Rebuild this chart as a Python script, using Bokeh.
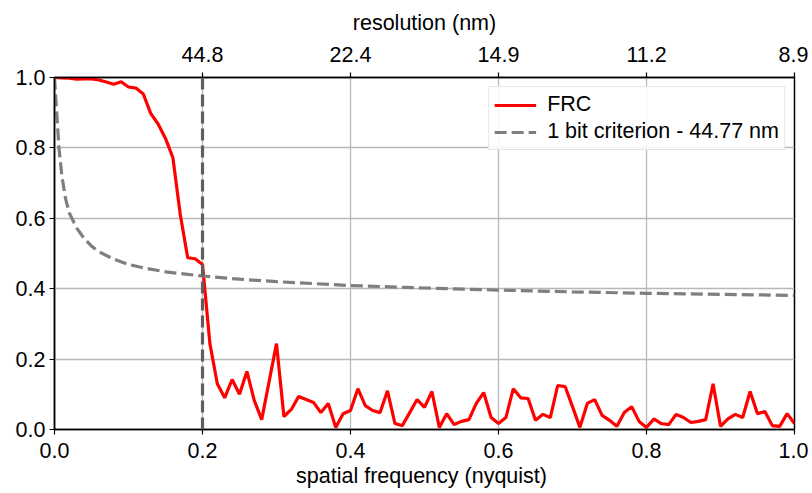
from bokeh.plotting import figure
from bokeh.models import (LinearAxis, FixedTicker, Span, Legend, LegendItem,
                          Range1d, NumeralTickFormatter)
from bokeh.embed import file_html
from bokeh.resources import INLINE

# FRC curve (spatial frequency in nyquist units, step 0.01)
frc_x = [i / 100 for i in range(101)]
frc_y = [1.0, 0.999, 0.998, 0.995, 0.996, 0.996, 0.993, 0.987, 0.981, 0.988,
         0.973, 0.970, 0.953, 0.898, 0.868, 0.827, 0.772, 0.610, 0.488, 0.485,
         0.469, 0.244, 0.130, 0.090, 0.142, 0.100, 0.165, 0.082, 0.028, 0.136,
         0.244, 0.037, 0.057, 0.094, 0.085, 0.077, 0.048, 0.074, 0.006, 0.045,
         0.054, 0.116, 0.068, 0.054, 0.048, 0.110, 0.017, 0.011, 0.048, 0.085,
         0.063, 0.108, 0.006, 0.045, 0.014, 0.023, 0.028, 0.074, 0.105, 0.034,
         0.017, 0.034, 0.116, 0.090, 0.088, 0.026, 0.043, 0.034, 0.125, 0.122,
         0.065, 0.006, 0.074, 0.085, 0.040, 0.026, 0.009, 0.048, 0.065, 0.023,
         0.006, 0.030, 0.017, 0.014, 0.043, 0.034, 0.020, 0.023, 0.028, 0.130,
         0.009, 0.030, 0.043, 0.034, 0.108, 0.045, 0.051, 0.011, 0.009, 0.045,
         0.017]

# 1 bit criterion threshold curve
bit_x = [0.0, 0.003, 0.006, 0.01, 0.015, 0.02, 0.03, 0.04, 0.05, 0.06, 0.08,
         0.10, 0.12, 0.15, 0.20, 0.25, 0.30, 0.40, 0.50, 0.60, 0.70, 0.80,
         0.90, 1.00]
bit_y = [1.0, 0.90, 0.80, 0.72, 0.655, 0.615, 0.572, 0.543, 0.521, 0.505,
         0.484, 0.469, 0.459, 0.448, 0.436, 0.427, 0.420, 0.409, 0.402,
         0.396, 0.391, 0.387, 0.384, 0.381]

crossing_x = 0.2
legend_labels = ["FRC", "1 bit criterion - 44.77 nm"]

x_ticks = [0.0, 0.2, 0.4, 0.6, 0.8, 1.0]
y_ticks = [0.0, 0.2, 0.4, 0.6, 0.8, 1.0]
top_ticks = [0.2, 0.4, 0.6, 0.8, 1.0]
top_labels = ["44.8", "22.4", "14.9", "11.2", "8.9"]

FONT = "Liberation Sans"
FS = "21.5px"

p = figure(width=808, height=489, output_backend="svg", toolbar_location=None,
           x_range=Range1d(0, 1), y_range=Range1d(0, 1),
           min_border_left=54, min_border_right=14, min_border_top=77,
           min_border_bottom=60)
p.frame_width = 740
p.frame_height = 352
p.background_fill_color = "white"
p.border_fill_color = "white"
p.outline_line_color = "black"
p.outline_line_width = 1.5
p.outline_line_alpha = 1.0

# grid
for g in (p.xgrid[0], p.ygrid[0]):
    g.grid_line_color = "#b8b8b8"
    g.grid_line_width = 1.3
p.xgrid[0].ticker = FixedTicker(ticks=[0.2, 0.4, 0.6, 0.8])
p.ygrid[0].ticker = FixedTicker(ticks=[0.2, 0.4, 0.6, 0.8])

def style_axis(ax):
    ax.axis_line_color = "black"
    ax.axis_line_width = 1.5
    ax.major_tick_line_color = "black"
    ax.major_tick_line_width = 1.2
    ax.major_tick_out = 5
    ax.major_tick_in = 0
    ax.minor_tick_line_color = None
    ax.major_label_text_font = FONT
    ax.major_label_text_font_size = FS
    ax.major_label_text_color = "black"
    ax.axis_label_text_font = FONT
    ax.axis_label_text_font_size = FS
    ax.axis_label_text_font_style = "normal"
    ax.axis_label_text_color = "black"

xa = p.xaxis[0]
xa.ticker = FixedTicker(ticks=x_ticks)
xa.formatter = NumeralTickFormatter(format="0.0")
xa.axis_label = "spatial frequency  (nyquist)"
style_axis(xa)
xa.major_label_standoff = 8
xa.axis_label_standoff = 3

ya = p.yaxis[0]
ya.ticker = FixedTicker(ticks=y_ticks)
ya.formatter = NumeralTickFormatter(format="0.0")
style_axis(ya)
ya.major_label_standoff = 4

top = LinearAxis(ticker=FixedTicker(ticks=top_ticks),
                 major_label_overrides={t: l for t, l in zip(top_ticks, top_labels)},
                 axis_label="resolution (nm)")
style_axis(top)
top.major_label_standoff = 11
top.axis_label_standoff = 9
p.add_layout(top, "above")

r_frc = p.line(frc_x, frc_y, line_color="#ff0000", line_width=3.2)
r_bit = p.line(bit_x, bit_y, line_color="#7f7f7f", line_width=3.2,
               line_dash="12 5")

vline = Span(location=crossing_x, dimension="height", line_color="#5f5f5f",
             line_width=3.2, line_dash="12 5")
p.add_layout(vline)

legend = Legend(items=[LegendItem(label=legend_labels[0], renderers=[r_frc]),
                       LegendItem(label=legend_labels[1], renderers=[r_bit])],
                location="top_right")
legend.label_text_font = FONT
legend.label_text_font_size = FS
legend.label_text_color = "black"
legend.glyph_width = 42
legend.glyph_height = 22
legend.label_height = 22
legend.label_standoff = 11
legend.spacing = 2
legend.padding = 5
legend.margin = 9
legend.border_line_color = "#d0d0d0"
legend.border_line_width = 1.2
legend.background_fill_alpha = 0.85
p.add_layout(legend)

open("out.html", "w").write(file_html(p, INLINE))
